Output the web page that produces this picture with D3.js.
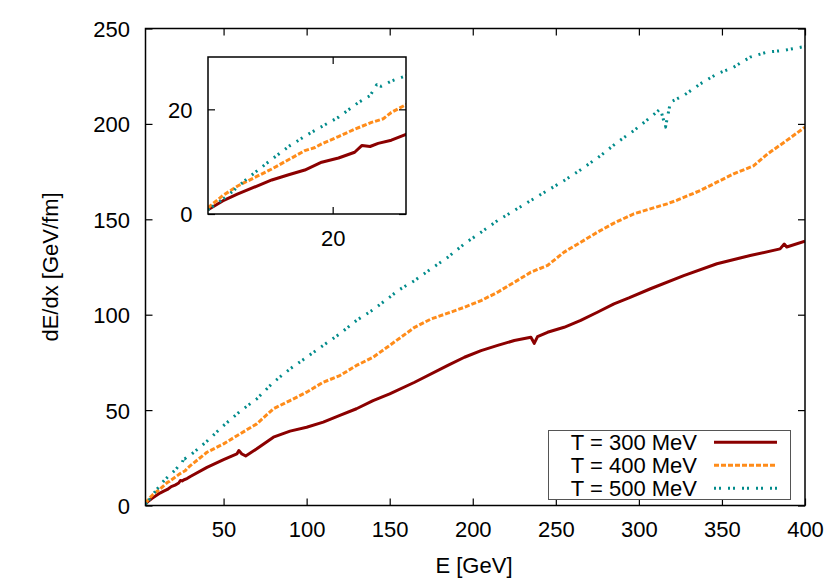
<!DOCTYPE html>
<meta charset="utf-8">
<script src="https://d3js.org/d3.v7.min.js"></script>
<style>
  body { margin: 0; background: white; }
  svg text { font-family: "Liberation Sans", Arial, sans-serif; font-size: 22px; fill: black; }
</style>
<div id="chart"></div>
<script>
  // T = 300 MeV
  var energy300 = [3, 5, 7, 11.7, 14, 16.2, 18.5, 20.8, 23, 24, 25.1, 26.2, 28, 30, 40, 50, 58, 59.2, 61, 63.3, 70, 80, 90, 100,
    110, 120, 130, 140, 150, 165, 185, 195, 205, 215, 225, 235, 237, 239, 245, 255, 265, 275, 285, 294, 307, 327,
    347, 367, 385, 387.5, 389, 400];
  var dedx300 = [0.8, 2.5, 3.8, 6.5, 7.5, 8.4, 9.9, 10.7, 11.8, 13.1, 12.9, 13.5, 14.1, 15.2, 20, 24, 27, 28.8, 27, 26, 29.7, 35.8, 39, 41,
    43.7, 47.2, 50.7, 55, 58.5, 64.6, 73.4, 77.7, 81.2, 83.9, 86.5, 88.2, 85, 88.5, 90.8, 93.4, 97, 101.3, 105.7, 108.8, 113.6, 120.5,
    126.7, 131, 134.5, 137, 135.5, 138.5];

  // T = 400 MeV
  var energy400 = [3, 5, 7.1, 11.7, 16.2, 17.6, 18.5, 20.8, 23, 25.3, 26.9, 28, 30, 40, 50, 60, 70, 80, 90, 100, 110, 120, 130,
    140, 150, 165, 175, 185, 195, 205, 215, 225, 235, 245, 255, 265, 275, 285, 297, 317, 323, 337, 357, 369, 377.5,
    387.5, 400];
  var dedx400 = [1.2, 3.5, 5.4, 8.6, 12.1, 12.7, 13.4, 14.8, 16.2, 17.5, 18.2, 19.4, 20.9, 27.9, 32.3, 37.6, 42.8, 50.7, 55, 59.4, 64.6, 68.1, 73.4,
    77.7, 83.9, 93.4, 97.8, 100.8, 103.9, 107.4, 111.8, 117, 122.3, 125.8, 132.8, 138, 143.2, 148, 152.9, 158.1, 160, 165.1, 173.8, 178, 184.3,
    190.4, 198.3];

  // T = 500 MeV
  var energy500 = [3, 5.5, 8.3, 11, 14.2, 17.1, 20.8, 23.5, 25.1, 26, 26.6, 28, 30, 40, 50, 60, 70, 80, 90, 100, 110, 120, 130,
    140, 150, 155, 165, 175, 185, 195, 205, 215, 225, 235, 245, 255, 265, 277, 287, 297, 307, 313, 316, 319, 327,
    337, 347, 357, 367, 377, 387, 400];
  var dedx500 = [0.8, 3.3, 6.7, 9.7, 13.1, 15.6, 18.5, 21.3, 22.6, 24.7, 24.4, 25.4, 26.4, 33.7, 41.9, 49.4, 55.9, 64.6, 71.6, 77.7, 83.9, 90, 97,
    102.6, 109.2, 112.7, 117.9, 124.1, 130.1, 137.2, 143.2, 149.4, 154.6, 159.9, 165.1, 170.3, 176, 183.4, 190.4, 196.5, 203.5, 207.9, 198.3, 211.4, 214.9,
    221, 226.2, 229.7, 235, 237.6, 238.5, 240.6];

  var seriesNames = ["T = 300 MeV", "T = 400 MeV", "T = 500 MeV"];
  var xTicks = [50, 100, 150, 200, 250, 300, 350, 400];
  var yTicks = [0, 50, 100, 150, 200, 250];
  var insetXTicks = [20];
  var insetYTicks = [0, 20];

  var series = [
    {name: seriesNames[0], pts: energy300.map((e, i) => [e, dedx300[i]]), color: "#8b0000", dash: null},
    {name: seriesNames[1], pts: energy400.map((e, i) => [e, dedx400[i]]), color: "#ff8c1a", dash: "5,2"},
    {name: seriesNames[2], pts: energy500.map((e, i) => [e, dedx500[i]]), color: "#008b8b", dash: "2,3,2,7"}
  ];

  var W = 830, H = 581;
  var svg = d3.select("#chart").append("svg").attr("width", W).attr("height", H);

  function panel(g, x, y, xt, yt, clipId) {
    var x0 = x.range()[0], x1 = x.range()[1], y0 = y.range()[0], y1 = y.range()[1];

    g.append("rect")
      .attr("x", x0).attr("y", y1).attr("width", x1 - x0).attr("height", y0 - y1)
      .attr("fill", "white");

    g.append("clipPath").attr("id", clipId)
      .append("rect")
      .attr("x", x0).attr("y", y1).attr("width", x1 - x0).attr("height", y0 - y1);

    var line = d3.line().x(d => x(d[0])).y(d => y(d[1]));

    g.append("g").attr("clip-path", "url(#" + clipId + ")")
      .selectAll("path")
      .data(series)
      .enter()
      .append("path")
      .attr("d", d => line(d.pts))
      .attr("fill", "none")
      .attr("stroke", d => d.color)
      .attr("stroke-width", 3)
      .attr("stroke-linejoin", "round")
      .attr("stroke-dasharray", d => d.dash);

    g.append("g").attr("transform", "translate(0," + y0 + ")")
      .call(d3.axisBottom(x).tickValues(xt).tickSizeInner(-7).tickSizeOuter(0).tickPadding(16));
    var left = g.append("g").attr("transform", "translate(" + x0 + ",0)")
      .call(d3.axisLeft(y).tickValues(yt).tickSizeInner(-7).tickSizeOuter(0).tickPadding(15.5));
    g.append("g").attr("transform", "translate(0," + y1 + ")")
      .call(d3.axisTop(x).tickValues(xt).tickSizeInner(-7).tickSizeOuter(0).tickFormat(""));
    g.append("g").attr("transform", "translate(" + x1 + ",0)")
      .call(d3.axisRight(y).tickValues(yt).tickSizeInner(-7).tickSizeOuter(0).tickFormat(""));

    g.selectAll(".domain").remove();
    g.selectAll(".tick line").attr("stroke", "black").attr("stroke-width", 1.2);
    g.selectAll(".tick text").attr("font-size", null).attr("font-family", null).attr("fill", "black");
    left.selectAll(".tick text").attr("dy", "0.36em");

    g.append("rect")
      .attr("x", x0).attr("y", y1).attr("width", x1 - x0).attr("height", y0 - y1)
      .attr("fill", "none").attr("stroke", "black").attr("stroke-width", 1.5);
  }

  // main chart
  var x = d3.scaleLinear().domain([3, 400]).range([145.5, 805]);
  var y = d3.scaleLinear().domain([0, 250]).range([505.5, 28.5]);
  panel(svg.append("g"), x, y, xTicks, yTicks, "clipMain");

  svg.append("text")
    .attr("x", 474).attr("y", 573)
    .attr("text-anchor", "middle")
    .text("E [GeV]");

  svg.append("text")
    .attr("transform", "translate(58,267) rotate(-90)")
    .attr("text-anchor", "middle")
    .text("dE/dx [GeV/fm]");

  // inset
  var xi = d3.scaleLinear().domain([3, 30]).range([208, 406]);
  var yi = d3.scaleLinear().domain([0, 30]).range([214, 57]);
  panel(svg.append("g"), xi, yi, insetXTicks, insetYTicks, "clipInset");

  // legend
  var legend = svg.append("g");
  legend.append("rect")
    .attr("x", 548.5).attr("y", 430.5).attr("width", 242).attr("height", 69)
    .attr("fill", "white").attr("stroke", "#555").attr("stroke-width", 1);

  var rows = legend.selectAll("g.row")
    .data(series)
    .enter()
    .append("g")
    .attr("class", "row")
    .attr("transform", (d, i) => "translate(0," + (442.3 + i * 23) + ")");

  rows.append("text")
    .attr("x", 697).attr("dy", "0.34em")
    .attr("text-anchor", "end")
    .text(d => d.name);

  rows.append("line")
    .attr("x1", 714).attr("x2", 777)
    .attr("stroke", d => d.color)
    .attr("stroke-width", 3)
    .attr("stroke-dasharray", d => d.dash);
</script>
